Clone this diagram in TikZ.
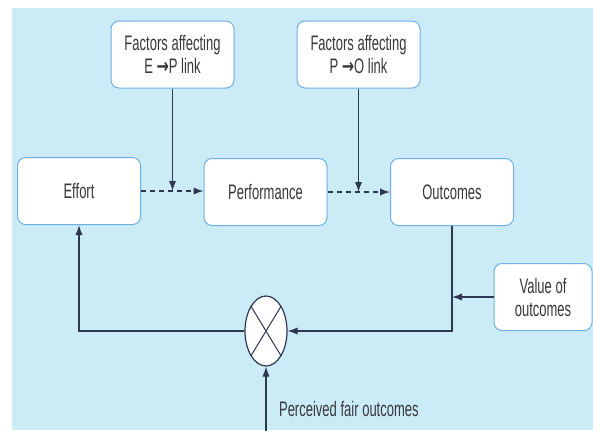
\documentclass[tikz,border=0pt]{standalone}
\usepackage{fontspec}
\setmainfont{Liberation Sans}[FakeStretch=0.62]
\newfontfamily\arrowfont{DejaVu Sans}[FakeStretch=0.7]
\usetikzlibrary{shapes.geometric,arrows.meta}
\tikzset{>={Latex[length=5pt,width=3.6pt]}}
\definecolor{mybg}{RGB}{203,236,247}
\definecolor{myedge}{RGB}{110,175,230}
\definecolor{myline}{RGB}{45,55,80}
\definecolor{mytext}{RGB}{55,55,60}
\newcommand{\linkarrow}{{\arrowfont\bfseries →}}

\begin{document}
\begin{tikzpicture}[x=0.5pt,y=-0.5pt,
  box/.style={draw=myedge,fill=white,rounded corners=4pt,line width=0.5pt,
    minimum width=61.5pt,minimum height=33.5pt,align=center,text=mytext,
    font=\fontsize{10.5}{11.5}\selectfont},
  link/.style={->,draw=myline,line width=0.6pt}]

  % background
  \useasboundingbox (0,0) rectangle (593,430);
  \fill [mybg] (12,8) rectangle (593,430);

  % boxes
  \node[box] (fEP) at (172.5,54.5) {Factors affecting\\E \linkarrow P link};
  \node[box] (fPO) at (358.5,54.5) {Factors affecting\\P \linkarrow O link};
  \node[box] (effort) at (79,191) {Effort};
  \node[box] (perf) at (265.5,192) {Performance};
  \node[box] (outc) at (452,192) {Outcomes};
  \node[box,minimum width=49pt] (value) at (543,297) {Value of\\outcomes};

  % comparator
  \node[ellipse,draw=myline,fill=white,line width=0.6pt,inner sep=0pt,
    minimum width=21pt,minimum height=35pt] (comp) at (266,331) {};
  \draw[myline,line width=0.5pt]
    (comp.north west) -- (comp.south east)
    (comp.north east) -- (comp.south west);
  \coordinate (foot) at (266,432);
  \node[anchor=west,text=mytext,font=\fontsize{10.5}{11.5}\selectfont]
    (fair) at (272,409) {Perceived fair outcomes};

  % arrows
  \draw[link,dash pattern=on 2.5pt off 2pt]
    (effort.east) -- (effort.east -| perf.west);
  \draw[link,dash pattern=on 2.5pt off 2pt]
    (perf.east) -- (perf.east -| outc.west);
  \draw[link] (fEP.south) -- (fEP.south |- effort.east);
  \draw[link] (fPO.south) -- (fPO.south |- perf.east);
  \draw[link] (outc.south) |- (comp.east);
  \draw[link] (value.west) -- (value.west -| outc.south);
  \draw[link] (comp.west) -| (effort.south);
  \draw[link] (foot) -- (comp.south);

\end{tikzpicture}
\end{document}
